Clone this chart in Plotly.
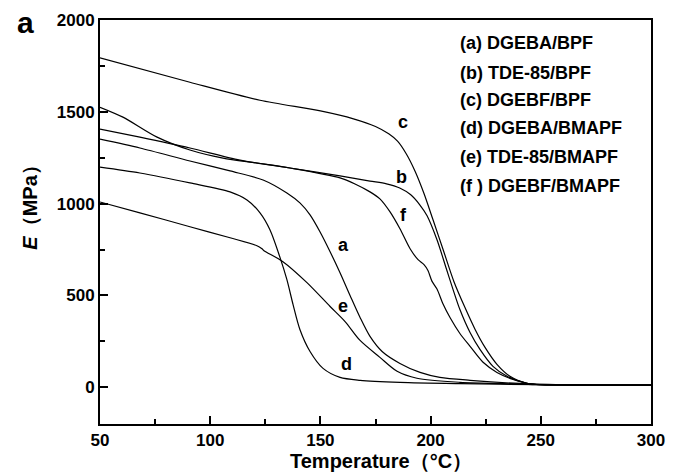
import plotly.graph_objects as go

# ---- data ----
T_a = [50, 68.1, 90.8, 109.0, 124.0, 134.8, 140.7, 145.3, 149.8, 154.4, 158.9, 163.5, 168.0, 172.5, 178.0, 186.1, 195.2, 204.2, 217.9, 245.2, 275, 300]
E_a = [1351, 1303, 1232, 1178, 1129, 1058, 1004, 939, 847, 738, 624, 499, 380, 277, 195, 130, 81, 54, 38, 18, 12, 12]

T_b = [50, 60.4, 75.9, 90.8, 105.8, 121.2, 136.2, 158.9, 172.5, 180.0, 186.0, 191.0, 195.0, 198.4, 202.9, 207.0, 210.2, 213.3, 217.9, 222.4, 228.3, 234.7, 243.7, 250, 275, 300]
E_b = [1525, 1471, 1362, 1292, 1248, 1221, 1194, 1151, 1123, 1108, 1085, 1048, 995, 934, 803, 651, 532, 423, 298, 206, 114, 60, 22, 14, 12, 12]

T_c = [50, 90.8, 122.6, 150.0, 165.0, 175.0, 181.0, 185.0, 189.0, 193.0, 197.0, 201.1, 205.7, 210.6, 215.6, 220.2, 224.7, 230.1, 236.0, 243.7, 250, 275, 300]
E_c = [1794, 1661, 1563, 1505, 1462, 1420, 1380, 1340, 1270, 1175, 1055, 912, 749, 575, 434, 315, 217, 125, 60, 22, 14, 12, 12]

T_d = [50, 68.1, 90.8, 109.0, 116.7, 122.6, 127.1, 131.7, 134.8, 137.6, 140.7, 145.3, 151.2, 158.9, 168.0, 186.1, 213.3, 250, 275, 300]
E_d = [1199, 1167, 1113, 1064, 1020, 950, 858, 706, 586, 450, 315, 195, 103, 54, 38, 27, 20, 14, 12, 12]

T_e = [50, 68.1, 90.8, 109.0, 121.2, 123.5, 124.4, 133.0, 143.9, 154.4, 161.2, 168.0, 177.0, 184.8, 193.8, 213.3, 240.6, 250, 275, 300]
E_e = [1009, 950, 874, 814, 771, 754, 744, 684, 570, 440, 358, 255, 163, 87, 49, 27, 18, 14, 12, 12]

T_f = [50, 68.1, 90.8, 113.5, 136.2, 158.9, 165.7, 172.5, 177.0, 181.6, 186.1, 190.7, 194.3, 197.0, 198.8, 200.6, 202.9, 205.6, 208.8, 213.3, 217.9, 223.8, 230.1, 237.4, 243.7, 250, 275, 300]
E_f = [1406, 1362, 1303, 1237, 1194, 1140, 1107, 1064, 1026, 955, 863, 754, 695, 668, 636, 578, 535, 455, 380, 293, 223, 136, 81, 43, 22, 14, 12, 12]

curve_ids = ["a", "b", "c", "d", "e", "f"]
legend_texts = ["(a) DGEBA/BPF", "(b) TDE-85/BPF", "(c) DGEBF/BPF",
                "(d) DGEBA/BMAPF", "(e) TDE-85/BMAPF", "(f ) DGEBF/BMAPF"]
# curve label positions (T, E)
label_T = [160.3, 187.0, 187.5, 162.0, 160.3, 187.5]
label_E = [776, 1145, 1444, 125, 445, 939]

series = {"a": (T_a, E_a), "b": (T_b, E_b), "c": (T_c, E_c),
          "d": (T_d, E_d), "e": (T_e, E_e), "f": (T_f, E_f)}

FONT = "Liberation Sans, Arial, Helvetica, sans-serif"

fig = go.Figure()
for cid in curve_ids:
    t, e = series[cid]
    fig.add_trace(go.Scatter(x=t, y=e, mode="lines",
                             line=dict(color="black", width=1.2, shape="spline", smoothing=0.8),
                             showlegend=False, hoverinfo="skip"))

ann = []
for cid, lx, ly in zip(curve_ids, label_T, label_E):
    ann.append(dict(x=lx, y=ly, xref="x", yref="y", text=f"<b>{cid}</b>", showarrow=False,
                    font=dict(family=FONT, size=18, color="black")))

leg_y = [0.944, 0.870, 0.801, 0.732, 0.660, 0.589]
for txt, yy in zip(legend_texts, leg_y):
    ann.append(dict(x=0.650, y=yy, xref="paper", yref="paper", text=f"<b>{txt}</b>",
                    showarrow=False, xanchor="left", yanchor="middle",
                    font=dict(family=FONT, size=18, color="black")))

# panel label
ann.append(dict(x=-0.136, y=0.994, xref="paper", yref="paper", text="<b>a</b>", showarrow=False,
                xanchor="center", yanchor="middle", font=dict(family=FONT, size=30, color="black")))
# axis titles
ann.append(dict(x=0.51, y=-0.092, xref="paper", yref="paper",
                text="<b>Temperature（°C）</b>", showarrow=False, xanchor="center", yanchor="middle",
                font=dict(family=FONT, size=20, color="black")))
ann.append(dict(x=-0.127, y=0.548, xref="paper", yref="paper",
                text="<b><i>E</i>（MPa）</b>", showarrow=False, xanchor="center", yanchor="middle",
                textangle=-90, font=dict(family=FONT, size=20, color="black")))

fig.update_layout(
    width=680, height=476,
    margin=dict(l=100, r=29, t=19.5, b=51.5),
    paper_bgcolor="white", plot_bgcolor="white",
    annotations=ann,
    font=dict(family=FONT, color="black"),
    xaxis=dict(range=[50, 300], tickmode="linear", tick0=50, dtick=50,
               ticks="inside", ticklen=8, tickwidth=1.5, tickcolor="black",
               minor=dict(dtick=25, ticks="inside", ticklen=5, tickwidth=1.5, tickcolor="black"),
               showline=True, linecolor="black", linewidth=2, mirror=True,
               showgrid=False, zeroline=False,
               tickfont=dict(family=FONT, size=17, color="black"),
               tickprefix="<b>", ticksuffix="</b>"),
    yaxis=dict(range=[-200, 2000], tickmode="linear", tick0=0, dtick=500,
               ticks="inside", ticklen=8, tickwidth=1.5, tickcolor="black",
               minor=dict(dtick=250, ticks="inside", ticklen=5, tickwidth=1.5, tickcolor="black"),
               showline=True, linecolor="black", linewidth=2, mirror=True,
               showgrid=False, zeroline=False,
               tickfont=dict(family=FONT, size=17, color="black"),
               tickprefix="<b>", ticksuffix="</b>"),
)

fig.write_html("out.html")
